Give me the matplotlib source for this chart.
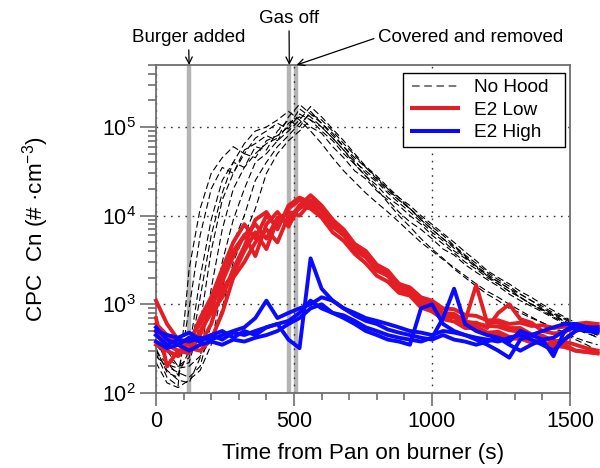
import matplotlib
matplotlib.use("Agg")
import matplotlib.pyplot as plt
from matplotlib.lines import Line2D
from matplotlib.patches import Rectangle
from matplotlib.ticker import MultipleLocator, LogLocator, NullFormatter

plt.rcParams["font.family"] = ["Liberation Sans", "DejaVu Sans"]
plt.rcParams["mathtext.fontset"] = "custom"
plt.rcParams["mathtext.rm"] = "Liberation Sans"
plt.rcParams["mathtext.it"] = "Liberation Sans:italic"
plt.rcParams["mathtext.bf"] = "Liberation Sans:bold"

# time from pan on burner (s), shared sampling for all runs
time_s = [0, 40, 80, 120, 160, 200, 240, 280, 320, 360, 400, 440, 480, 520,
          560, 600, 640, 680, 720, 760, 800, 840, 880, 920, 960, 1000, 1040,
          1080, 1120, 1160, 1200, 1240, 1280, 1320, 1360, 1400, 1440, 1480,
          1520, 1560, 1600]

# CPC Cn (#/cm3) -- no hood runs
no_hood = [
    [320, 170, 150, 900, 6000, 2.0e4, 3.5e4, 3.0e4, 5.5e4, 6.5e4, 8.0e4, 7.0e4, 1.1e5, 1.3e5,
     1.0e5, 8.5e4, 6.0e4, 4.5e4, 3.2e4, 2.6e4, 1.9e4, 1.5e4, 1.1e4, 8.5e3, 7.0e3, 5.5e3, 4.2e3,
     3.6e3, 2.8e3, 2.3e3, 1.9e3, 1.6e3, 1.3e3, 1.1e3, 950, 820, 700, 600, 520, 470, 430],
    [280, 150, 120, 2500, 1.2e4, 3.0e4, 4.5e4, 6.0e4, 5.0e4, 7.5e4, 9.0e4, 1.1e5, 9.5e4, 1.4e5,
     1.2e5, 9.0e4, 7.0e4, 5.0e4, 3.8e4, 2.8e4, 2.2e4, 1.6e4, 1.3e4, 1.0e4, 8.0e3, 6.0e3, 4.8e3,
     3.8e3, 3.0e3, 2.5e3, 2.0e3, 1.7e3, 1.4e3, 1.2e3, 1.0e3, 880, 760, 650, 560, 500, 450],
    [400, 220, 160, 300, 2000, 9000, 2.5e4, 4.0e4, 3.5e4, 6.0e4, 5.5e4, 9.0e4, 1.2e5, 1.0e5,
     1.5e5, 1.1e5, 8.0e4, 6.0e4, 4.2e4, 3.0e4, 2.4e4, 1.8e4, 1.4e4, 1.1e4, 8.5e3, 6.5e3, 5.2e3,
     4.0e3, 3.3e3, 2.6e3, 2.1e3, 1.8e3, 1.5e3, 1.3e3, 1.1e3, 900, 780, 680, 580, 520, 470],
    [350, 250, 200, 220, 600, 4000, 1.5e4, 3.0e4, 5.0e4, 4.5e4, 7.0e4, 8.0e4, 1.0e5, 1.6e5,
     1.3e5, 1.0e5, 7.5e4, 5.5e4, 4.0e4, 3.2e4, 2.5e4, 1.9e4, 1.5e4, 1.2e4, 9.0e3, 7.0e3, 5.5e3,
     4.5e3, 3.5e3, 2.7e3, 2.2e3, 1.8e3, 1.5e3, 1.2e3, 1.0e3, 850, 720, 620, 540, 480, 420],
    [300, 180, 140, 130, 250, 1500, 7000, 2.0e4, 3.5e4, 5.0e4, 6.5e4, 7.5e4, 1.3e5, 1.8e5,
     1.4e5, 1.1e5, 8.5e4, 6.0e4, 4.5e4, 3.5e4, 2.6e4, 2.0e4, 1.6e4, 1.2e4, 9.5e3, 7.5e3, 6.0e3,
     4.6e3, 3.6e3, 2.9e3, 2.3e3, 1.9e3, 1.6e3, 1.3e3, 1.1e3, 950, 800, 700, 600, 530, 480],
    [260, 200, 170, 150, 200, 600, 3000, 9000, 2.0e4, 4.0e4, 5.0e4, 7.0e4, 9.0e4, 1.2e5,
     1.7e5, 1.3e5, 9.5e4, 7.0e4, 5.0e4, 3.6e4, 2.8e4, 2.1e4, 1.6e4, 1.3e4, 1.0e4, 8.0e3, 6.3e3,
     5.0e3, 3.9e3, 3.1e3, 2.4e3, 2.0e3, 1.7e3, 1.4e3, 1.2e3, 1.0e3, 850, 720, 620, 550, 500],
    [220, 130, 115, 140, 180, 350, 1500, 5000, 1.0e4, 2.5e4, 4.0e4, 6.0e4, 8.0e4, 1.1e5,
     1.4e5, 1.2e5, 9.0e4, 6.5e4, 4.8e4, 3.5e4, 2.7e4, 2.0e4, 1.5e4, 1.2e4, 9.0e3, 7.0e3, 5.5e3,
     4.3e3, 3.4e3, 2.7e3, 2.1e3, 1.7e3, 1.4e3, 1.2e3, 1.0e3, 870, 740, 640, 560, 500, 450],
    [300, 210, 190, 200, 260, 400, 900, 3000, 6000, 1.2e4, 3.0e4, 5.0e4, 7.0e4, 9.0e4,
     1.2e5, 1.0e5, 7.5e4, 5.5e4, 3.8e4, 2.8e4, 2.0e4, 1.4e4, 1.0e4, 7.5e3, 5.5e3, 4.2e3, 3.3e3,
     2.5e3, 2.0e3, 1.6e3, 1.3e3, 1.1e3, 900, 800, 700, 620, 550, 480, 420, 380, 350],
    [450, 300, 200, 250, 1200, 6000, 1.8e4, 4.0e4, 6.5e4, 9.0e4, 1.0e5, 1.2e5, 1.5e5, 1.2e5,
     9.0e4, 6.5e4, 4.5e4, 3.2e4, 2.4e4, 1.8e4, 1.4e4, 1.1e4, 8.5e3, 6.5e3, 5.0e3, 4.0e3, 3.2e3,
     2.6e3, 2.1e3, 1.7e3, 1.4e3, 1.2e3, 1.0e3, 850, 720, 620, 540, 460, 400, 350, 300],
]

# E2 hood, low setting
e2_low = [
    [1100, 600, 400, 350, 700, 1200, 2500, 5000, 8000, 5500, 1.0e4, 7500, 1.2e4, 1.5e4,
     1.3e4, 1.0e4, 7500, 6000, 4200, 3600, 2700, 2300, 1700, 1550, 1200, 1100, 900,
     880, 760, 740, 660, 660, 600, 620, 570, 580, 540, 560, 580, 570, 560],
    [700, 200, 300, 280, 450, 900, 1800, 3500, 6000, 3500, 8000, 1.1e4, 7500, 1.3e4,
     1.7e4, 1.3e4, 9000, 7000, 4800, 4000, 2800, 2400, 1700, 1500, 1100, 1050, 800,
     780, 650, 1650, 620, 620, 540, 540, 460, 440, 370, 350, 300, 290, 280],
    [500, 400, 350, 300, 350, 600, 1500, 2200, 4000, 6500, 4200, 9000, 1.1e4, 1.0e4,
     1.4e4, 1.15e4, 8000, 6300, 4000, 3400, 2400, 2100, 1500, 1350, 1050, 950, 760,
     720, 620, 620, 540, 800, 1000, 680, 620, 500, 470, 480, 600, 620, 600],
    [450, 350, 300, 320, 300, 400, 800, 2000, 3000, 5000, 7000, 5000, 1.0e4, 1.2e4,
     1.5e4, 1.25e4, 9000, 6300, 4400, 3500, 2500, 2100, 1450, 1300, 950, 900, 720,
     720, 580, 560, 480, 490, 430, 430, 390, 380, 340, 330, 300, 290, 280],
    [350, 300, 260, 400, 600, 1000, 2000, 4000, 6000, 8000, 5500, 9500, 8500, 1.3e4,
     1.2e4, 9500, 6500, 5200, 3700, 2900, 2100, 1800, 1350, 1250, 920, 830, 680,
     640, 540, 540, 470, 460, 410, 410, 370, 370, 330, 400, 500, 550, 560],
    [600, 450, 380, 300, 500, 800, 1200, 2500, 4500, 9000, 1.1e4, 7000, 1.3e4, 1.6e4,
     1.4e4, 1.15e4, 8000, 6200, 4500, 3600, 2600, 2200, 1650, 1400, 1050, 980, 800,
     740, 640, 610, 570, 560, 510, 490, 440, 440, 390, 380, 350, 320, 300],
]

# E2 hood, high setting
e2_high = [
    [550, 400, 350, 420, 380, 450, 400, 480, 450, 500, 550, 600, 400, 320, 3300, 1500,
     1100, 900, 800, 700, 650, 600, 550, 500, 480, 450, 500, 480, 450, 420, 400, 380,
     420, 450, 400, 350, 300, 400, 500, 550, 550],
    [450, 350, 400, 380, 420, 400, 450, 500, 550, 700, 1100, 700, 800, 900, 1000, 1200,
     1100, 900, 750, 650, 600, 520, 480, 450, 420, 400, 450, 400, 380, 350, 380, 420,
     350, 300, 350, 400, 420, 500, 550, 500, 480],
    [380, 320, 350, 300, 350, 380, 350, 400, 380, 420, 450, 500, 600, 700, 900, 1000,
     800, 700, 600, 500, 450, 400, 380, 350, 900, 1000, 600, 500, 450, 400, 350, 300,
     250, 400, 450, 500, 550, 600, 600, 550, 520],
    [500, 450, 420, 480, 400, 450, 500, 420, 500, 450, 550, 600, 650, 800, 1100, 900,
     800, 750, 650, 550, 500, 450, 420, 400, 380, 420, 700, 1500, 600, 500, 450, 420,
     380, 500, 450, 400, 260, 500, 600, 550, 500],
]

events = [120, 483, 509]

RED = "#e31e24"
BLUE = "#0a0aff"
GRAY = "#6e6e6e"

fig = plt.figure(figsize=(6.0, 4.68), dpi=100)
ax = fig.add_axes([0.26, 0.1603, 0.69, 0.7008])

for xe in events:
    ax.axvline(xe, color="#b4b4b4", lw=3.2, zorder=1)

for ys in no_hood:
    ax.plot(time_s, ys, color="black", lw=0.8, dashes=(6, 3), clip_on=False, zorder=2)
for ys in e2_low:
    ax.plot(time_s, ys, color=RED, lw=2.8, clip_on=False, zorder=3)
for ys in e2_high:
    ax.plot(time_s, ys, color=BLUE, lw=2.8, clip_on=False, zorder=4)

ax.set_yscale("log")
ax.set_xlim(0, 1500)
ax.set_ylim(1e2, 5e5)

ax.xaxis.set_major_locator(MultipleLocator(500))
ax.xaxis.set_minor_locator(MultipleLocator(100))
ax.yaxis.set_major_locator(LogLocator(base=10))
ax.yaxis.set_minor_locator(LogLocator(base=10, subs=range(2, 10)))
ax.yaxis.set_minor_formatter(NullFormatter())

ax.grid(True, which="major", color="#333333", lw=1.0, linestyle=(0, (1.2, 4)), zorder=0)

for s in ax.spines.values():
    s.set_color(GRAY)
    s.set_linewidth(1.3)

ax.tick_params(axis="both", which="both", direction="out", color=GRAY, width=1.2,
               labelsize=15.5, top=False, right=False)
ax.tick_params(axis="x", which="major", length=9.6, pad=3.5)
ax.tick_params(axis="x", which="minor", length=5)
ax.tick_params(axis="y", which="major", length=11.5, pad=3)
ax.tick_params(axis="y", which="minor", length=5.8)

fig.text(363 / 600, 9 / 468, "Time from Pan on burner (s)", ha="center", va="baseline", fontsize=16.2)
fig.text(36 / 600, 1 - 229 / 468, "CPC  Cn (# \u00b7cm$^{-3}$)", ha="center", va="center",
         rotation=90, fontsize=16.2)

arrow = dict(arrowstyle="->", color="black", lw=0.9, shrinkA=1, shrinkB=0, mutation_scale=12)
ax.annotate("Burger added", xy=(events[0], 1.0), xycoords=("data", "axes fraction"),
            xytext=(188.5, 468 - 41.7), textcoords="figure pixels",
            ha="center", va="baseline", fontsize=13.5, arrowprops=arrow, annotation_clip=False)
ax.annotate("Gas off", xy=(events[1], 1.0), xycoords=("data", "axes fraction"),
            xytext=(289, 468 - 22.7), textcoords="figure pixels",
            ha="center", va="baseline", fontsize=13.5, arrowprops=arrow, annotation_clip=False)
ax.annotate("Covered and removed", xy=(events[2], 1.0), xycoords=("data", "axes fraction"),
            xytext=(378, 468 - 41.7), textcoords="figure pixels",
            ha="left", va="baseline", fontsize=13.5,
            arrowprops=dict(arrow, relpos=(0, 0.5)), annotation_clip=False)

# legend box drawn by hand so it keeps the reference's proportions
fig.add_artist(Rectangle((403 / 600, 1 - 147 / 468), 162 / 600, 74.3 / 468,
                         transform=fig.transFigure, facecolor="white",
                         edgecolor="black", lw=1.0, zorder=5))
handles = [
    Line2D([], [], color="#555555", lw=1.1, dashes=(5, 3)),
    Line2D([], [], color=RED, lw=2.9),
    Line2D([], [], color=BLUE, lw=2.9),
]
leg = fig.legend(handles, ["No Hood", "E2 Low", "E2 High"], loc="upper left",
                 bbox_to_anchor=(412 / 600, 1 - 79 / 468), borderaxespad=0,
                 fontsize=13.7, frameon=False, handlelength=2.4, handletextpad=0.85,
                 labelspacing=0.276, borderpad=0)
leg.set_zorder(6)

fig.savefig("out.png", dpi=100)
